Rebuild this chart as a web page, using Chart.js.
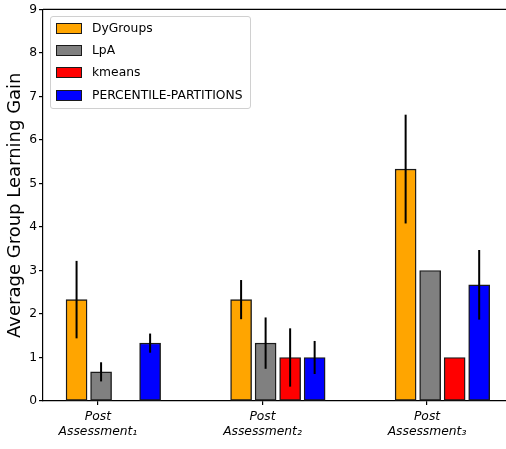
<!DOCTYPE html>
<html><head><meta charset="utf-8">
<script src="https://cdn.jsdelivr.net/npm/chart.js@4"></script>
<style>
html,body{margin:0;padding:0;background:#fff}
#wrap{position:relative;width:506px;height:449px}
#legend{position:absolute;left:50px;top:16px;width:199px;height:91px;border:1px solid #d0d0d0;border-radius:3px;background:rgba(255,255,255,0.85);font-family:'DejaVu Sans',sans-serif;font-size:12.3px;color:#000}
.item{position:absolute;left:5px;height:12px;line-height:12px;white-space:nowrap}
.sw{position:absolute;left:0;top:0;width:24px;height:9px;border:1.4px solid #1a1a1a}
.lab{position:absolute;left:36px;top:-1px}
</style>
</head><body><div id="wrap"><canvas id="c" width="506" height="449"></canvas><div id="legend"></div></div>
<script>
const categoryPrefix = 'Post';
const categories = ['Assessment₁', 'Assessment₂', 'Assessment₃'];
const seriesNames = ['DyGroups', 'LpA', 'kmeans', 'PERCENTILE-PARTITIONS'];
const dyGroups = [2.33, 2.33, 5.33];
const lpa = [0.67, 1.33, 3.0];
const kmeans = [0, 1.0, 1.0];
const percentile = [1.33, 1.0, 2.67];
const dyGroupsErr = [0.89, 0.45, 1.25];
const lpaErr = [0.22, 0.59, 0];
const kmeansErr = [0, 0.67, 0];
const percentileErr = [0.22, 0.38, 0.80];
const yTicks = [0, 1, 2, 3, 4, 5, 6, 7, 8, 9];
const yTitle = 'Average Group Learning Gain';

const seriesValues = [dyGroups, lpa, kmeans, percentile];
const seriesErrors = [dyGroupsErr, lpaErr, kmeansErr, percentileErr];
const colors = ['#FFA500', '#808080', '#FF0000', '#0000FF'];
const FONT = "'DejaVu Sans', sans-serif";
const SLOT = 0.149, FIRST = -0.13;

Chart.defaults.color = '#000';
Chart.defaults.font.family = FONT;

// HTML legend
const legendEl = document.getElementById('legend');
seriesNames.forEach((name, k) => {
  const it = document.createElement('div');
  it.className = 'item';
  it.style.top = (6 + k * 22.2) + 'px';
  const sw = document.createElement('span');
  sw.className = 'sw';
  sw.style.background = colors[k];
  const lab = document.createElement('span');
  lab.className = 'lab';
  lab.textContent = name;
  it.appendChild(sw); it.appendChild(lab);
  legendEl.appendChild(it);
});

const datasets = seriesNames.map((name, k) => ({
  label: name,
  data: seriesValues[k].map((v, i) => ({x: i + FIRST + k * SLOT, y: v})),
  backgroundColor: colors[k],
  borderColor: '#1a1a1a',
  borderWidth: 1.4,
  borderSkipped: false,
  barThickness: 21,
  grouped: false
}));

const overlay = {
  id: 'overlay',
  afterDatasetsDraw(chart) {
    const ctx = chart.ctx, ys = chart.scales.y;
    ctx.save();
    ctx.strokeStyle = '#000';
    ctx.lineWidth = 2;
    seriesErrors.forEach((errs, k) => {
      const meta = chart.getDatasetMeta(k);
      meta.data.forEach((el, j) => {
        const e = errs[j];
        if (!e) return;
        const v = seriesValues[k][j];
        ctx.beginPath();
        ctx.moveTo(el.x, ys.getPixelForValue(v + e));
        ctx.lineTo(el.x, ys.getPixelForValue(v - e));
        ctx.stroke();
      });
    });
    const ca = chart.chartArea;
    ctx.lineWidth = 1.2;
    ctx.beginPath();
    ctx.moveTo(ca.left, ca.top);
    ctx.lineTo(ca.right, ca.top);
    ctx.stroke();
    ctx.restore();
  }
};

new Chart(document.getElementById('c'), {
  type: 'bar',
  data: {datasets},
  plugins: [overlay],
  options: {
    responsive: false,
    animation: false,
    layout: {padding: {top: 8, left: 0, right: 0, bottom: 0}},
    plugins: {
      legend: {display: false},
      tooltip: {enabled: false}
    },
    scales: {
      x: {
        type: 'linear',
        min: -0.334,
        max: 2.48,
        offset: false,
        afterBuildTicks: s => { s.ticks = categories.map((_, i) => ({value: i})); },
        afterFit: s => { s.height = 48; },
        ticks: {
          autoSkip: false, maxRotation: 0, padding: 5,
          callback: v => [categoryPrefix, categories[Math.round(v)]],
          font: {family: FONT, size: 12.3, style: 'italic', lineHeight: 1.17},
          color: '#000'
        },
        grid: {display: true, offset: false, drawOnChartArea: false, drawTicks: true, tickLength: 4, color: '#000', lineWidth: 1.2},
        border: {display: true, color: '#000', width: 1.2}
      },
      y: {
        min: 0, max: 9,
        afterBuildTicks: s => { s.ticks = yTicks.map(v => ({value: v})); },
        afterFit: s => { s.width = 43; },
        ticks: {padding: 2, font: {family: FONT, size: 12.3}, color: '#000'},
        grid: {display: true, drawOnChartArea: false, drawTicks: true, tickLength: 4, color: '#000', lineWidth: 1.2},
        border: {display: true, color: '#000', width: 1.2},
        title: {display: true, text: yTitle, font: {family: FONT, size: 18}, color: '#000', padding: {top: 5, bottom: 0}}
      }
    }
  }
});
</script></body></html>
